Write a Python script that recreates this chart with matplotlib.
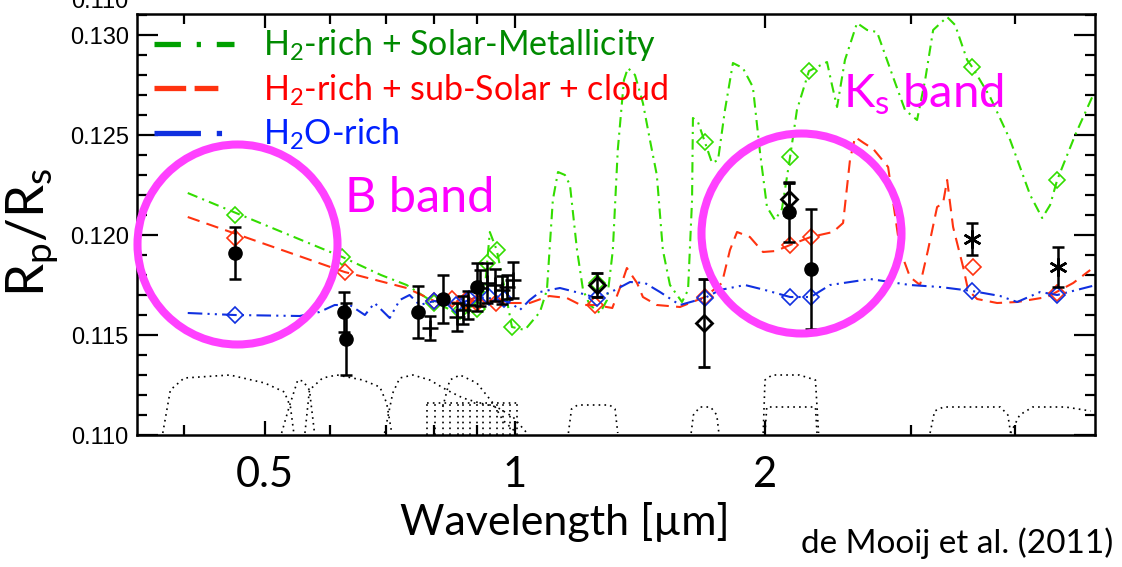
import matplotlib
matplotlib.use("Agg")
import matplotlib.pyplot as plt
from matplotlib.lines import Line2D

# ---------------- data ----------------
green_model = [(0.404,0.1221),(0.620,0.1189),(0.690,0.1180),(0.741,0.1175),(0.790,0.11675),(0.847,0.11615),
               (0.895,0.1165),(0.920,0.11725),(0.933,0.12015),(0.951,0.11925),(0.973,0.11725),(0.992,0.1154),
               (1.028,0.11525),(1.072,0.11615),(1.093,0.11725),(1.111,0.12175),(1.127,0.12315),(1.149,0.1230),
               (1.165,0.1225),(1.188,0.11925),(1.208,0.11725),(1.231,0.1165),(1.266,0.1161),(1.291,0.11675),
               (1.312,0.11925),(1.330,0.12425),(1.353,0.12775),(1.368,0.12835),(1.395,0.1280),(1.426,0.1266),
               (1.454,0.12475),(1.482,0.1230),(1.507,0.11925),(1.537,0.1175),(1.589,0.11665),(1.616,0.11725),
               (1.634,0.12175),(1.638,0.12585),(1.661,0.12565),(1.693,0.12465),(1.727,0.1236),(1.756,0.12375),
               (1.790,0.12625),(1.830,0.1286),(1.881,0.12835),(1.934,0.1274),(1.973,0.1241),(2.011,0.1214),
               (2.056,0.12075),(2.096,0.1213),(2.144,0.1239),(2.185,0.12625),(2.259,0.1282),(2.375,0.12865),
               (2.408,0.1275),(2.442,0.1264),(2.496,0.12875),(2.581,0.1306),(2.654,0.13025),(2.728,0.13015),
               (2.852,0.1279),(2.948,0.12625),(3.048,0.12575),(3.117,0.12775),(3.187,0.13025),(3.313,0.1309),
               (3.387,0.1305),(3.502,0.12875),(3.551,0.1284),(3.732,0.1269),(3.945,0.12475),(4.170,0.1220),
               (4.311,0.12085),(4.407,0.1215),(4.494,0.12275),(4.724,0.1250),(4.952,0.1269)]
green_diamonds = [(0.46,0.1210),(0.620,0.1189),(0.80,0.1166),(0.86,0.1162),(0.90,0.1163),(0.925,0.1186),
                  (0.951,0.11925),(0.992,0.1154),(1.256,0.1176),(1.693,0.12465),(2.144,0.1239),(2.259,0.1282),
                  (3.551,0.1284),(4.494,0.12275)]

red_model = [(0.404,0.1209),(0.624,0.11815),(0.741,0.11735),(0.80,0.1167),(0.86,0.1166),(0.92,0.1168),
             (0.97,0.1166),(1.042,0.1166),(1.10,0.11695),(1.155,0.11685),(1.20,0.1165),(1.25,0.1165),
             (1.31,0.11635),(1.345,0.1176),(1.364,0.11835),(1.403,0.1176),(1.426,0.1169),(1.482,0.1165),
             (1.580,0.1164),(1.693,0.1169),(1.775,0.1176),(1.815,0.11925),(1.851,0.12015),(1.918,0.1199),
             (1.989,0.11915),(2.06,0.1192),(2.144,0.1195),(2.27,0.1199),(2.415,0.12015),(2.483,0.1206),
             (2.531,0.12375),(2.567,0.1249),(2.63,0.1246),(2.70,0.1243),(2.813,0.1234),(2.908,0.11925),
             (2.989,0.1179),(3.073,0.1175),(3.142,0.11925),(3.222,0.1214),(3.276,0.1216),(3.313,0.12275),
             (3.368,0.1204),(3.463,0.1184),(3.511,0.11725),(3.60,0.1168),(3.805,0.1166),(4.022,0.11665),
             (4.371,0.1169),(4.698,0.1176),(4.925,0.11825)]
red_diamonds = [(0.46,0.11985),(0.624,0.11815),(0.80,0.1167),(0.84,0.1168),(0.87,0.1167),(0.90,0.1166),
                (0.95,0.1166),(1.25,0.1165),(1.693,0.1169),(2.144,0.1195),(2.27,0.1199),(3.56,0.1184),
                (4.494,0.1171)]

blue_model = [(0.404,0.1161),(0.46,0.1160),(0.551,0.11595),(0.582,0.11615),(0.607,0.1165),(0.633,0.1165),
              (0.66,0.1160),(0.678,0.1166),(0.707,0.11585),(0.727,0.11675),(0.747,0.1170),(0.768,0.1165),
              (0.80,0.1167),(0.85,0.1165),(0.90,0.1169),(0.95,0.1168),(0.99,0.1166),(1.014,0.11625),
              (1.042,0.11675),(1.072,0.11715),(1.133,0.11735),(1.197,0.1171),(1.256,0.11685),(1.320,0.11725),
              (1.376,0.11765),(1.434,0.1176),(1.495,0.11715),(1.58,0.1165),(1.693,0.11685),(1.765,0.11725),
              (1.892,0.1175),(2.0,0.11725),(2.144,0.1169),(2.27,0.1169),(2.395,0.1175),(2.676,0.1178),
              (2.989,0.1175),(3.249,0.1174),(3.55,0.1172),(3.837,0.11695),(4.022,0.11665),(4.287,0.11715),
              (4.494,0.1170),(4.952,0.11745)]
blue_diamonds = [(0.46,0.1160),(0.80,0.1167),(0.85,0.1165),(0.88,0.1168),(0.93,0.1169),(0.97,0.1168),
                 (1.256,0.11685),(1.693,0.11685),(2.144,0.1169),(2.27,0.1169),(3.55,0.1172),(4.494,0.1170)]

# observations
dot_wl  = [0.46, 0.623, 0.626, 0.764, 0.819, 0.90, 2.14, 2.27]
dot_rp  = [0.1191, 0.11615, 0.1148, 0.11615, 0.1168, 0.1174, 0.12115, 0.1183]
dot_err = [0.0013, 0.0010, 0.0018, 0.0013, 0.0012, 0.0012, 0.0015, 0.0030]

plus_wl  = [0.79, 0.851, 0.866, 0.879, 0.907, 0.926, 0.946, 0.964, 0.978, 0.995]
plus_rp  = [0.11535, 0.1159, 0.11625, 0.1165, 0.11735, 0.1176, 0.1175, 0.11725, 0.1174, 0.11775]
plus_err = [0.0006, 0.0007, 0.0007, 0.0007, 0.0009, 0.0010, 0.0008, 0.0007, 0.0006, 0.0009]

dia_wl  = [1.256, 1.69, 2.14]
dia_rp  = [0.1175, 0.1156, 0.1218]
dia_err = [0.0006, 0.0022, 0.0008]

ast_wl  = [3.55, 4.50]
ast_rp  = [0.1198, 0.1184]
ast_err = [0.0008, 0.0010]

# filter transmission outlines (drawn at the bottom of the panel)
filters = [
    [(0.377,0.1101),(0.385,0.11225),(0.40,0.11285),(0.454,0.1130),(0.50,0.1126),(0.528,0.11215),(0.537,0.1114),(0.542,0.1101)],
    [(0.524,0.1101),(0.535,0.1114),(0.548,0.11275),(0.556,0.1127),(0.566,0.11225),(0.574,0.1101)],
    [(0.559,0.1101),(0.566,0.11225),(0.587,0.11285),(0.611,0.1130),(0.656,0.11275),(0.688,0.1124),(0.701,0.1116),(0.711,0.1101)],
    [(0.697,0.1101),(0.713,0.1121),(0.727,0.11285),(0.754,0.1130),(0.790,0.11275),(0.828,0.11225),(0.866,0.11185),
     (0.907,0.1116),(0.951,0.1114),(0.995,0.1109),(1.034,0.1101)],
    [(0.819,0.1114),(0.835,0.11275),(0.859,0.1130),(0.900,0.1126),(0.941,0.1116),(0.967,0.11075),(1.005,0.1101)],
    [(1.16,0.1101),(1.17,0.1113),(1.19,0.1115),(1.25,0.1115),(1.30,0.1115),(1.32,0.1113),(1.33,0.1101)],
    [(1.63,0.1101),(1.64,0.1110),(1.67,0.1114),(1.72,0.1114),(1.75,0.1110),(1.76,0.1101)],
    [(1.99,0.1101),(2.00,0.11275),(2.04,0.1130),(2.20,0.1130),(2.30,0.11275),(2.32,0.1101)],
    [(2.00,0.1101),(2.01,0.1114),(2.30,0.1114),(2.31,0.1101)],
    [(3.16,0.1101),(3.20,0.1112),(3.28,0.1114),(3.84,0.1114),(3.92,0.1110),(3.95,0.1101)],
    [(3.95,0.1101),(4.05,0.1110),(4.20,0.1114),(4.60,0.1114),(4.93,0.1112)],
]
comb_edges = [0.784, 0.801, 0.819, 0.835, 0.854, 0.866, 0.883, 0.900, 0.915, 0.933, 0.951, 0.967, 0.986, 1.005]
comb_top = 0.1116

labels = ["H$\\mathregular{_2}$-rich + Solar-Metallicity",
          "H$\\mathregular{_2}$-rich + sub-Solar + cloud",
          "H$\\mathregular{_2}$O-rich"]
xtick_major = [0.5, 1, 2]
xtick_major_labels = ["0.5", "1", "2"]
xtick_minor = [0.4, 0.6, 0.7, 0.8, 0.9, 3, 4]
ytick_major = [0.110, 0.115, 0.120, 0.125, 0.130]

# ---------------- style ----------------
plt.rcParams['font.family'] = ['Lato', 'DejaVu Sans']
plt.rcParams['mathtext.fontset'] = 'custom'
plt.rcParams['mathtext.rm'] = 'Lato'

GREEN = '#33dd00'
RED = '#ff3310'
BLUE = '#1030e0'
MAG = '#ff40ff'

fig = plt.figure(figsize=(11.22, 5.67), dpi=100)
ax = fig.add_axes([0.1221, 0.2328, 0.8538, 0.7425])

def unz(p):
    return [a for a, b in p], [b for a, b in p]

# filters
for f in filters:
    fx, fy = unz(f)
    ax.plot(fx, fy, color='k', lw=1.2, ls=(0, (1, 2.5)), zorder=1)
ax.vlines(comb_edges, 0.110, comb_top, colors='k', lw=1.2, linestyles=(0, (1, 2.5)), zorder=1)
ax.hlines(comb_top, comb_edges[0], comb_edges[-1], colors='k', lw=1.2, linestyles=(0, (1, 2.5)), zorder=1)

# models
gx, gy = unz(green_model)
ax.plot(gx, gy, color=GREEN, lw=1.5, dashes=(5, 2.5, 1, 2.5), zorder=2)
rx, ry = unz(red_model)
ax.plot(rx, ry, color=RED, lw=1.5, dashes=(6, 3.5), zorder=2)
bx, by = unz(blue_model)
ax.plot(bx, by, color=BLUE, lw=1.5, dashes=(7, 2.5, 1, 2.5, 1, 2.5), zorder=2)
for pts, c in [(green_diamonds, GREEN), (red_diamonds, RED), (blue_diamonds, BLUE)]:
    dx, dy = unz(pts)
    ax.plot(dx, dy, ls='none', marker='D', ms=8, mfc='none', mec=c, mew=1.2, zorder=3)

# observations
eb = dict(color='k', ecolor='k', elinewidth=1.8, capsize=4.5, capthick=1.8, zorder=5)
ax.errorbar(dot_wl, dot_rp, yerr=dot_err, fmt='o', ms=9.5, **eb)
ax.errorbar(plus_wl, plus_rp, yerr=plus_err, fmt='+', ms=11, mew=1.8, **eb)
ax.errorbar(dia_wl, dia_rp, yerr=dia_err, fmt='D', ms=8, mfc='none', mec='k', mew=2, **eb)
ax.errorbar(ast_wl, ast_rp, yerr=ast_err, fmt='none', **eb)
ax.plot(ast_wl, ast_rp, ls='none', marker=(6, 2, 0), ms=13, mec='k', mew=1.8, zorder=6)

# highlight circles
ax.plot([0.463], [0.11953], marker='o', ms=144, mfc='none', mec=MAG, mew=5.8, zorder=10, clip_on=False)
ax.plot([2.21], [0.1201], marker='o', ms=144, mfc='none', mec=MAG, mew=5.8, zorder=10, clip_on=False)

# axes
ax.set_xscale('log')
ax.set_xlim(0.351, 4.99)
ax.set_ylim(0.110, 0.13105)
ax.set_xticks(xtick_major)
ax.set_xticklabels(xtick_major_labels)
ax.set_xticks(xtick_minor, minor=True)
ax.set_xticklabels([], minor=True)
ax.set_yticks(ytick_major)
ax.set_yticklabels([f"{t:.3f}" for t in ytick_major], family='Liberation Sans', fontsize=17)
ax.set_yticks([0.110 + 0.001 * i for i in range(22)], minor=True)
ax.tick_params(axis='both', which='both', direction='in', top=True, right=True, width=1.6)
ax.tick_params(axis='y', which='major', length=15, pad=6)
ax.tick_params(axis='y', which='minor', length=7)
ax.tick_params(axis='x', which='major', length=10, pad=15, labelsize=30)
ax.tick_params(axis='x', which='minor', length=7)
for s in ax.spines.values():
    s.set_linewidth(1.8)

# legend
handles = [Line2D([], [], color='#00a000', lw=3.8, dashes=(5, 3, 0.8, 3)),
           Line2D([], [], color=RED, lw=3.8, dashes=(6, 1.6, 4.5, 3.2, 0.8, 3)),
           Line2D([], [], color=BLUE, lw=3.8, dashes=(8.8, 3, 1, 3))]
ax.legend(handles, labels, loc='upper left', bbox_to_anchor=(0.018, 0.968), frameon=False, fontsize=24.5,
          handlelength=2.35, handletextpad=0.85, labelspacing=0.26, borderpad=0, borderaxespad=0,
          labelcolor=['#008a00', '#ff0000', '#0020ff'])

# annotations
fig.text(345 / 1122, 1 - 212 / 567, "B band", color='#ff00ff', fontsize=35, va='baseline')
fig.text(843 / 1122, 1 - 108 / 567, "K$\\mathregular{_s}$ band", color='#ff00ff', fontsize=34, va='baseline')
fig.text(565 / 1122, 1 - 522 / 567, "Wavelength [\u00b5m]", fontsize=31, ha='center', va='center')
fig.text(32 / 1122, 1 - 232 / 567, "R$\\mathregular{_p}$/R$\\mathregular{_s}$", fontsize=38,
         rotation=90, ha='center', va='center')
fig.text(1113 / 1122, 1 - 553 / 567, "de Mooij et al. (2011)", fontsize=24, ha='right', va='baseline')
fig.text(128 / 1122, 1 - 1.5 / 567, "0.110", fontsize=17, family='Liberation Sans', ha='right', va='center')

fig.savefig("out.png", dpi=100)
